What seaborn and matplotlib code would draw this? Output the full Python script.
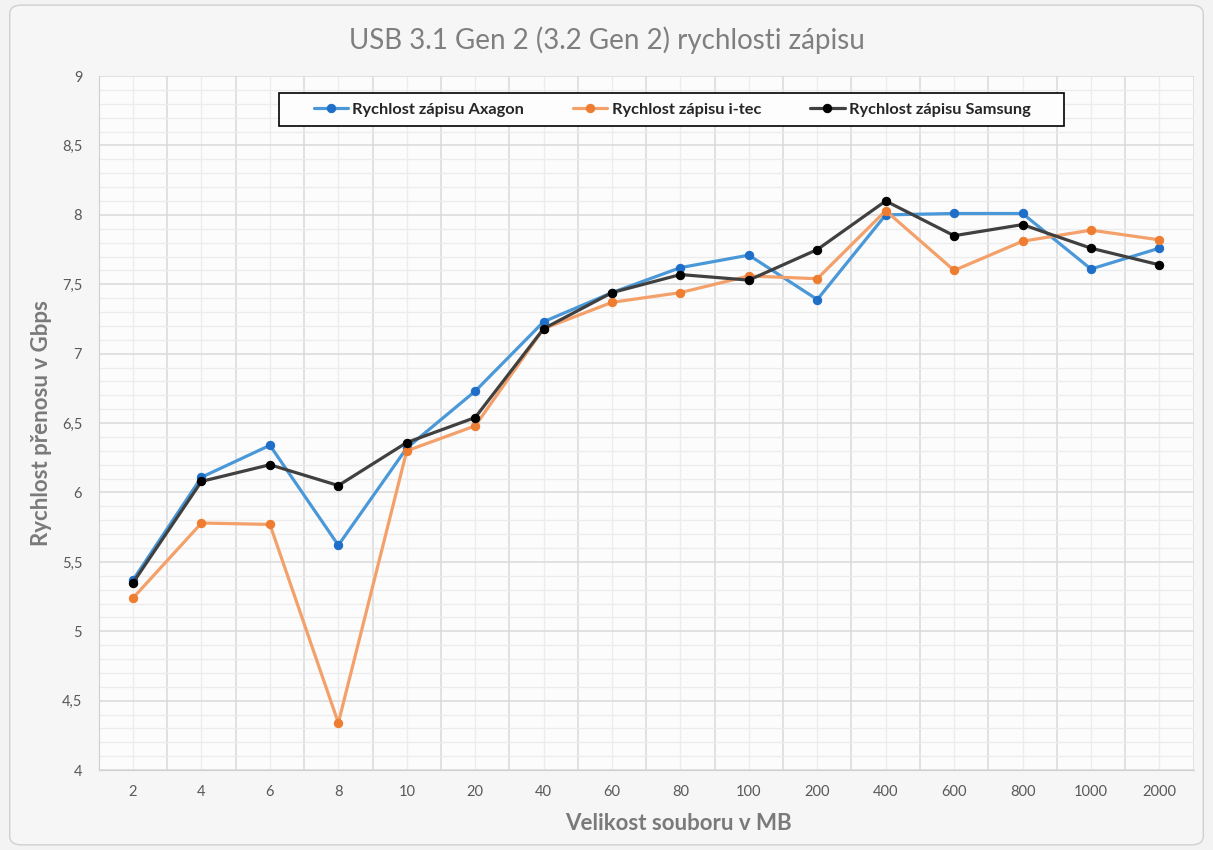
import pandas as pd
import seaborn as sns
import matplotlib.pyplot as plt
from matplotlib.ticker import MultipleLocator, FixedLocator, FuncFormatter
from matplotlib.patches import FancyBboxPatch, Rectangle

# file sizes in MB (categorical x axis)
sizes = ['2', '4', '6', '8', '10', '20', '40', '60', '80', '100', '200',
         '400', '600', '800', '1000', '2000']

# write speeds in Gbps
axagon = [5.37, 6.11, 6.34, 5.62, 6.32, 6.73, 7.23, 7.44, 7.62, 7.71, 7.39,
          8.00, 8.01, 8.01, 7.61, 7.76]
itec = [5.24, 5.78, 5.77, 4.34, 6.30, 6.48, 7.18, 7.37, 7.44, 7.56, 7.54,
        8.03, 7.60, 7.81, 7.89, 7.82]
samsung = [5.35, 6.08, 6.20, 6.05, 6.36, 6.54, 7.18, 7.44, 7.57, 7.53, 7.75,
           8.10, 7.85, 7.93, 7.76, 7.64]

series_names = ['Rychlost zápisu Axagon', 'Rychlost zápisu i-tec',
                'Rychlost zápisu Samsung']
line_colors = ['#4a98d8', '#f3a06a', '#404040']
marker_colors = ['#1f6fc8', '#ee7d31', '#000000']


def build_frame():
    '''
    Puts the three series into one long data frame for seaborn.
    '''
    frames = []
    for name, vals in zip(series_names, [axagon, itec, samsung]):
        frames.append(pd.DataFrame({'size': sizes, 'speed': vals,
                                    'series': name}))
    return pd.concat(frames, ignore_index=True)


def main():
    df = build_frame()
    df['pos'] = df['size'].map({s: i for i, s in enumerate(sizes)})

    sns.set_style('white')
    plt.rcParams['font.family'] = ['Lato', 'DejaVu Sans']

    fig = plt.figure(figsize=(12.13, 8.5), dpi=100, facecolor='#f3f3f3')
    fig.patches.append(FancyBboxPatch((0.008, 0.006), 0.984, 0.988,
                                      boxstyle='round,pad=0,rounding_size=0.01',
                                      transform=fig.transFigure,
                                      facecolor='#f6f6f6', edgecolor='#d0d0d0',
                                      linewidth=1.0, zorder=-10))
    ax = fig.add_axes([0.0815, 0.094, 0.9025, 0.8165])
    ax.set_facecolor('#fcfcfc')

    for i, name in enumerate(series_names):
        sub = df[df['series'] == name]
        sns.lineplot(data=sub, x='pos', y='speed', ax=ax, color=line_colors[i],
                     linewidth=2.3, marker='o', markersize=6,
                     markerfacecolor=marker_colors[i],
                     markeredgecolor=marker_colors[i], label=name, zorder=3)

    n = len(sizes)
    ax.set_xlim(-0.5, n - 0.5)
    ax.set_ylim(4, 9)

    # Excel style gridlines
    ax.xaxis.set_major_locator(FixedLocator([i - 0.5 for i in range(n + 1)]))
    ax.xaxis.set_minor_locator(FixedLocator(list(range(n))))
    ax.xaxis.set_major_formatter(FuncFormatter(lambda v, p: ''))
    ax.xaxis.set_minor_formatter(
        FuncFormatter(lambda v, p: sizes[int(round(v))]
                      if 0 <= round(v) < n else ''))
    ax.yaxis.set_major_locator(MultipleLocator(0.5))
    ax.yaxis.set_minor_locator(MultipleLocator(0.1))
    ax.yaxis.set_major_formatter(
        FuncFormatter(lambda v, p: f'{v:g}'.replace('.', ',')))

    ax.grid(which='major', color='#dadada', linewidth=1.1, zorder=0)
    ax.grid(which='minor', color='#ececec', linewidth=0.9, zorder=0)
    ax.set_axisbelow(True)

    ax.tick_params(axis='x', which='major', length=7, color='#d0d0d0',
                   direction='out')
    ax.tick_params(axis='x', which='minor', length=0, pad=11,
                   labelsize=10.5, labelcolor='#595959')
    ax.tick_params(axis='y', which='major', length=3, color='#d0d0d0',
                   labelsize=10.5, labelcolor='#595959', pad=9)
    ax.tick_params(axis='y', which='minor', length=0)

    for side in ['top', 'right']:
        ax.spines[side].set_visible(False)
    for side in ['left', 'bottom']:
        ax.spines[side].set_color('#d0d0d0')

    ax.set_xlabel('Velikost souboru v MB', fontsize=16, fontweight='bold',
                  color='#7a7a7a', labelpad=11)
    ax.xaxis.set_label_coords(0.529, -0.062)
    ax.set_ylabel('Rychlost přenosu v Gbps', fontsize=16, fontweight='bold',
                  color='#7a7a7a', labelpad=7)
    fig.text(0.5, 0.953, 'USB 3.1 Gen 2 (3.2 Gen 2) rychlosti zápisu',
             ha='center', va='center', fontsize=20, color='#7f7f7f')

    # legend frame drawn separately so the entries can sit centred in it
    ax.add_patch(Rectangle((0.165, 0.928), 0.717, 0.048,
                           transform=ax.transAxes, facecolor='#fdfdfd',
                           edgecolor='#000000', linewidth=1.2, zorder=4))
    leg = ax.legend(loc='center', bbox_to_anchor=(0.5235, 0.952),
                    ncol=3, frameon=False,
                    prop={'weight': 'bold', 'size': 11.8},
                    handlelength=2.1, handletextpad=0.25, columnspacing=3.0,
                    borderpad=0)
    leg.set_zorder(5)

    plt.savefig('out.png', dpi=100, facecolor=fig.get_facecolor())


if __name__ == '__main__':
    main()
